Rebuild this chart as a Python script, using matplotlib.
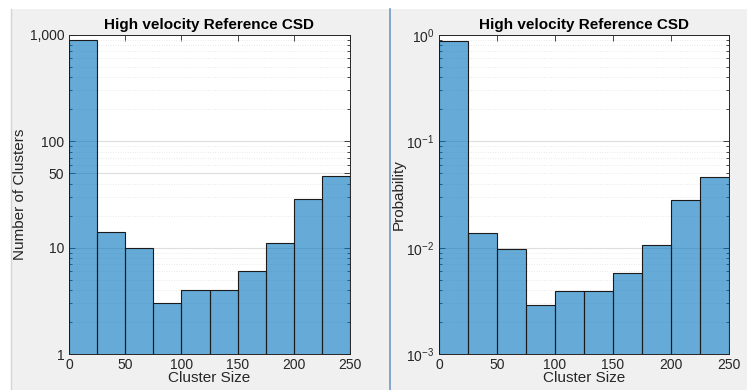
import matplotlib
matplotlib.use('Agg')
import matplotlib.pyplot as plt
import numpy as np
from matplotlib.patches import Rectangle
from matplotlib.lines import Line2D
from matplotlib.ticker import LogLocator, NullFormatter, FixedLocator

plt.rcParams['font.family'] = ['Liberation Sans', 'DejaVu Sans']
plt.rcParams['mathtext.fontset'] = 'custom'
plt.rcParams['mathtext.rm'] = 'Liberation Sans'

# histogram data
bin_edges = [0, 25, 50, 75, 100, 125, 150, 175, 200, 225, 250]
counts = [900, 14, 10, 3, 4, 4, 6, 11, 29, 47]
title = 'High velocity Reference CSD'
left_yticks = [1, 10, 50, 100, 1000]
left_yticklabels = ['1', '10', '50', '100', '1,000']
xticks = [0, 50, 100, 150, 200, 250]

counts_arr = np.array(counts, dtype=float)
prob = counts_arr / counts_arr.sum()
lefts = np.array(bin_edges[:-1])
widths = np.diff(bin_edges)

TXT = '#262626'
BG = '#f0f0f0'

fig = plt.figure(figsize=(7.47, 3.90), dpi=100, facecolor='white')
# gray panel backgrounds like the MATLAB figure windows
fig.patches.append(Rectangle((11 / 747, 0), (389 - 11) / 747, 381 / 390,
                             transform=fig.transFigure, facecolor=BG,
                             edgecolor='none', zorder=-10))
fig.patches.append(Rectangle((391 / 747, 0), (747 - 391) / 747, 381 / 390,
                             transform=fig.transFigure, facecolor=BG,
                             edgecolor='none', zorder=-10))
fig.lines.append(Line2D([11 / 747, 11 / 747], [0, 381 / 390],
                        transform=fig.transFigure, color='#d4d4d4', lw=1))
fig.lines.append(Line2D([390 / 747, 390 / 747], [0, 381 / 390],
                        transform=fig.transFigure, color='#6f93c6', lw=1.2))


def style(ax, vals, ylim):
    ax.bar(lefts, vals, width=widths, align='edge', color='#0072BD',
           alpha=0.6, edgecolor='none', zorder=2)
    ax.bar(lefts, vals, width=widths, align='edge', facecolor='none',
           edgecolor='#1a1a1a', linewidth=0.8, zorder=3)
    ax.set_yscale('log')
    ax.set_ylim(*ylim)
    ax.set_xlim(0, 250)
    ax.set_xticks(xticks)
    ax.set_facecolor('white')
    ax.set_title(title, fontsize=11, fontweight='bold', color='black', pad=4)
    ax.set_xlabel('Cluster Size', fontsize=11, color=TXT, labelpad=-1)
    ax.yaxis.set_minor_locator(LogLocator(base=10, subs=np.arange(2, 10)))
    ax.yaxis.set_minor_formatter(NullFormatter())
    ax.grid(True, which='major', axis='y', color='#dedede', lw=0.8, zorder=0)
    ax.grid(True, which='minor', axis='y', color='#d6d6d6', lw=0.5,
            linestyle=(0, (1, 2.5)), zorder=0)
    ax.set_axisbelow(True)
    ax.tick_params(which='both', direction='in', top=True, right=True,
                   colors=TXT, labelsize=10, width=0.6)
    ax.tick_params(which='major', length=4)
    ax.tick_params(which='minor', length=2)
    ax.tick_params(axis='x', pad=3)
    for sp in ax.spines.values():
        sp.set_color(TXT)
        sp.set_linewidth(0.7)


ax1 = fig.add_axes([69 / 747, 35.7 / 390, 281 / 747, 319.6 / 390])
ax2 = fig.add_axes([439 / 747, 35.7 / 390, 290 / 747, 319.6 / 390])

style(ax1, counts_arr, (1, 1000))
ax1.yaxis.set_major_locator(FixedLocator(left_yticks))
ax1.set_yticklabels(left_yticklabels)
ax1.set_ylabel('Number of Clusters', fontsize=11, color=TXT, labelpad=2)

style(ax2, prob, (1e-3, 1))
ax2.yaxis.set_major_locator(LogLocator(base=10))
ax2.set_ylabel('Probability', fontsize=11, color=TXT, labelpad=0)

fig.savefig('out.png', dpi=100, facecolor=fig.get_facecolor())
